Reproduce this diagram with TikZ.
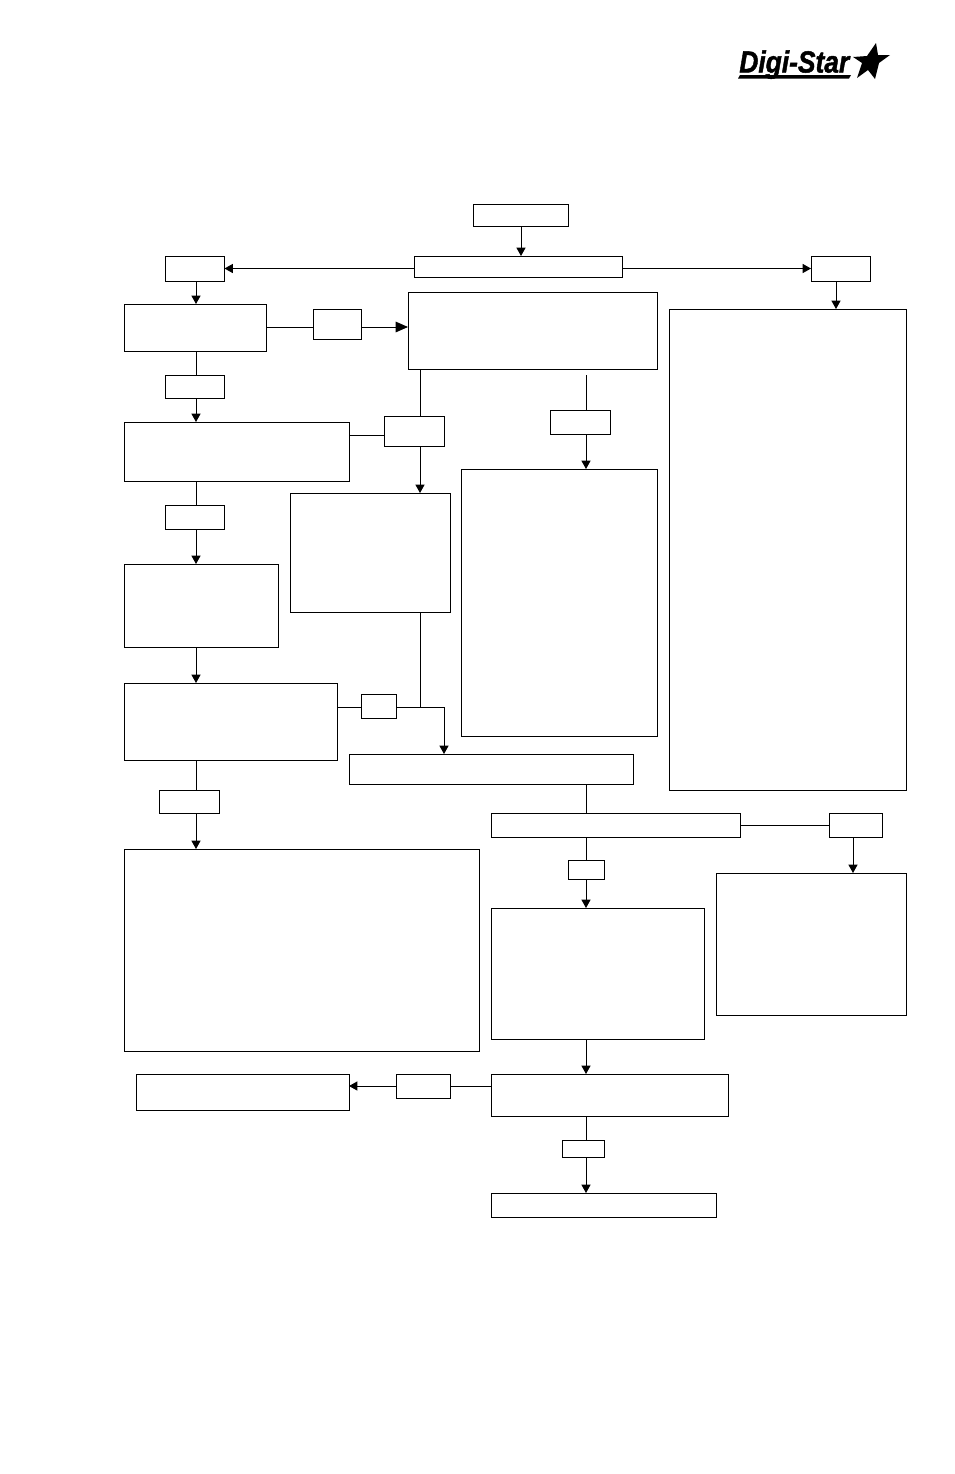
\documentclass[tikz,border=0pt]{standalone}
\usepackage{fontspec}
\usetikzlibrary{arrows.meta}
\newfontfamily\logofont[BoldItalicFeatures={FakeBold=1.6}]{Liberation Sans}
\tikzset{
  box/.style={draw,line width=.55pt,inner sep=0pt,outer sep=0pt},
  sz/.style 2 args={minimum width=#1*0.02cm,minimum height=#2*0.02cm},
  conn/.style={line width=.55pt},
  arr/.style={line width=.55pt,-{Triangle[length=4.8pt,width=5.2pt]}},
  bigarr/.style={line width=.55pt,-{Triangle[length=7pt,width=6pt]}}
}
\begin{document}
\begin{tikzpicture}[x=0.02cm,y=-0.02cm]
\useasboundingbox (0,0) rectangle (954,1474);

% logo
\node[inner sep=0pt,anchor=base west,xscale=.95,yscale=1.1] (logotext) at (739,72.5) {\logofont\fontsize{15.8pt}{18pt}\selectfont\bfseries\itshape Digi-Star};
\fill (740,75) -- (851,75) -- (849,78.5) -- (738,78.5) -- cycle;
\fill (876,43) -- (878,55) -- (890,55) -- (879,63) -- (875,79) -- (868,70) -- (857,78) -- (862,63) -- (853,57) -- (867,56) -- cycle;

% columns and rows of the lines
\coordinate (colL) at (196,0);
\coordinate (colM) at (420,0);
\coordinate (colK) at (444,0);
\coordinate (colN) at (586,0);
\coordinate (colS) at (521,0);
\coordinate (colR) at (836,0);
\coordinate (colH) at (853,0);
\coordinate (rowA) at (0,327);
\coordinate (rowC) at (0,435);
\coordinate (rowF) at (0,707);
\coordinate (gapN) at (586,375);
\coordinate (jct) at (420,707);
\coordinate (jctR) at (444,707);

% boxes
\node[box,sz={95}{22}] (start) at (520.5,215) {};
\node[box,sz={208}{21}] (menu) at (518,266.5) {};
\node[box,sz={59}{25}] (yesL) at (195,268.5) {};
\node[box,sz={59}{25}] (yesR) at (840.5,268.5) {};
\node[box,sz={142}{47}] (setA) at (195,327.5) {};
\node[box,sz={48}{30}] (keyA) at (337,324) {};
\node[box,sz={249}{77}] (setB) at (532.5,330.5) {};
\node[box,sz={59}{23}] (keyB) at (195,386.5) {};
\node[box,sz={225}{59}] (setC) at (236.5,451.5) {};
\node[box,sz={60}{30}] (keyC) at (414,431) {};
\node[box,sz={60}{24}] (keyD) at (580,422) {};
\node[box,sz={59}{24}] (keyE) at (195,517) {};
\node[box,sz={154}{83}] (setD) at (201,605.5) {};
\node[box,sz={160}{119}] (listA) at (370,552.5) {};
\node[box,sz={196}{267}] (listB) at (559,602.5) {};
\node[box,sz={237}{481}] (listC) at (787.5,549.5) {};
\node[box,sz={213}{77}] (setE) at (230.5,721.5) {};
\node[box,sz={35}{24}] (keyF) at (378.5,706) {};
\node[box,sz={284}{30}] (calA) at (491,769) {};
\node[box,sz={60}{23}] (keyG) at (189,801.5) {};
\node[box,sz={355}{202}] (listD) at (301.5,950) {};
\node[box,sz={249}{24}] (calB) at (615.5,825) {};
\node[box,sz={53}{24}] (keyH) at (855.5,825) {};
\node[box,sz={36}{19}] (keyI) at (586,869.5) {};
\node[box,sz={213}{131}] (calC) at (597.5,973.5) {};
\node[box,sz={190}{142}] (listE) at (811,944) {};
\node[box,sz={237}{42}] (calD) at (609.5,1095) {};
\node[box,sz={54}{24}] (keyJ) at (423,1086) {};
\node[box,sz={213}{36}] (endA) at (242.5,1092) {};
\node[box,sz={42}{17}] (keyK) at (583,1148.5) {};
\node[box,sz={225}{24}] (endB) at (603.5,1205) {};

% top row
\draw[arr] (colS |- start.south) -- (colS |- menu.north);
\draw[arr] (menu.west |- yesL.east) -- (yesL.east);
\draw[arr] (menu.east |- yesR.west) -- (yesR.west);
\draw[arr] (colR |- yesR.south) -- (colR |- listC.north);

% left column
\draw[arr] (colL |- yesL.south) -- (colL |- setA.north);
\draw[conn] (setA.east |- rowA) -- (keyA.west |- rowA);
\draw[bigarr] (keyA.east |- rowA) -- (setB.west |- rowA);
\draw[conn] (colL |- setA.south) -- (colL |- keyB.north);
\draw[arr] (colL |- keyB.south) -- (colL |- setC.north);
\draw[conn] (colL |- setC.south) -- (colL |- keyE.north);
\draw[arr] (colL |- keyE.south) -- (colL |- setD.north);
\draw[arr] (colL |- setD.south) -- (colL |- setE.north);
\draw[conn] (colL |- setE.south) -- (colL |- keyG.north);
\draw[arr] (colL |- keyG.south) -- (colL |- listD.north);

% middle columns
\draw[conn] (colM |- setB.south) -- (colM |- keyC.north);
\draw[conn] (setC.east |- rowC) -- (keyC.west |- rowC);
\draw[arr] (colM |- keyC.south) -- (colM |- listA.north);
\draw[conn] (gapN) -- (colN |- keyD.north);
\draw[arr] (colN |- keyD.south) -- (colN |- listB.north);
\draw[conn] (colM |- listA.south) -- (jct);
\draw[conn] (setE.east |- rowF) -- (keyF.west |- rowF);
\draw[arr] (keyF.east |- rowF) -- (jctR) -- (colK |- calA.north);

% lower right
\draw[conn] (colN |- calA.south) -- (colN |- calB.north);
\draw[conn] (colN |- calB.south) -- (colN |- keyI.north);
\draw[arr] (colN |- keyI.south) -- (colN |- calC.north);
\draw[conn] (calB.east |- keyH.west) -- (keyH.west);
\draw[arr] (colH |- keyH.south) -- (colH |- listE.north);
\draw[arr] (colN |- calC.south) -- (colN |- calD.north);
\draw[conn] (calD.west |- keyJ.east) -- (keyJ.east);
\draw[arr] (keyJ.west) -- (endA.east |- keyJ.west);
\draw[conn] (colN |- calD.south) -- (colN |- keyK.north);
\draw[arr] (colN |- keyK.south) -- (colN |- endB.north);
\end{tikzpicture}
\end{document}
